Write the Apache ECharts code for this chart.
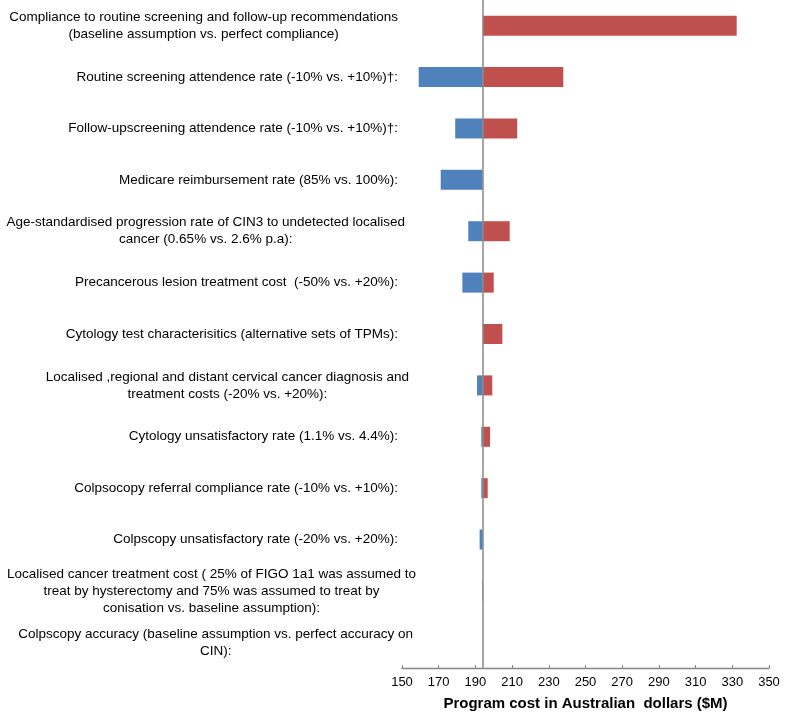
<!DOCTYPE html>
<html><head><meta charset="utf-8">
<script src="https://cdn.jsdelivr.net/npm/echarts@6/dist/echarts.min.js"></script>
<style>html,body{margin:0;padding:0;background:#fff}#c{width:785px;height:713px}</style>
</head><body><div id="c"></div>
<script>
const categories = [
  "Compliance to routine screening and follow-up recommendations\n(baseline assumption vs. perfect compliance)",
  "Routine screening attendence rate (-10% vs. +10%)†:",
  "Follow-upscreening attendence rate (-10% vs. +10%)†:",
  "Medicare reimbursement rate (85% vs. 100%):",
  "Age-standardised progression rate of CIN3 to undetected localised\ncancer (0.65% vs. 2.6% p.a):",
  "Precancerous lesion treatment cost  (-50% vs. +20%):",
  "Cytology test characterisitics (alternative sets of TPMs):",
  "Localised ,regional and distant cervical cancer diagnosis and\ntreatment costs (-20% vs. +20%):",
  "Cytology unsatisfactory rate (1.1% vs. 4.4%):",
  "Colpsocopy referral compliance rate (-10% vs. +10%):",
  "Colpscopy unsatisfactory rate (-20% vs. +20%):",
  "Localised cancer treatment cost ( 25% of FIGO 1a1 was assumed to\ntreat by hysterectomy and 75% was assumed to treat by\nconisation vs. baseline assumption):",
  "Colpscopy accuracy (baseline assumption vs. perfect accuracy on\nCIN):"
];
const labelShift = [0, 0, 0, 0, 7, 0, 0, 11, 0, 0, 0, 18, 15];
const baseline = 194;
const lowValues  = [194, 159.1, 179.0, 171.1, 186.1, 182.9, 194, 190.9, 193.2, 193.2, 192.3, 193.6, 194];
const highValues = [332.4, 237.9, 212.8, 194, 208.7, 200.0, 204.7, 199.2, 198.0, 196.7, 194, 194, 194];
const xTicks = { min: 150, max: 350, interval: 20 };

const FONT = "'Liberation Sans', Arial, sans-serif";
const offsetData = lowValues.map(v => v);
const lowDelta = lowValues.map(v => +(baseline - v).toFixed(2));
const highDelta = highValues.map(v => +(v - baseline).toFixed(2));

const yData = categories.map((c, i) => ({
  value: c,
  textStyle: { padding: [0, -labelShift[i], 0, 0] }
}));

const chart = echarts.init(document.getElementById('c'), null, { renderer: 'canvas' });
chart.setOption({
  animation: false,
  backgroundColor: '#fff',
  grid: { left: 402, right: 16, top: 0, bottom: 45, containLabel: false, outerBoundsMode: 'none' },
  xAxis: {
    type: 'value', min: xTicks.min, max: xTicks.max, interval: xTicks.interval,
    axisLine: { show: true, lineStyle: { color: '#868686', width: 1.3 } },
    axisTick: { show: true, inside: true, length: 3, lineStyle: { color: '#868686' } },
    splitLine: { show: false },
    axisLabel: { color: '#000', fontSize: 13, fontFamily: FONT, margin: 8 },
    name: 'Program cost in Australian  dollars ($M)',
    nameLocation: 'middle', nameGap: 28,
    nameTextStyle: { color: '#000', fontSize: 15, fontWeight: 'bold', fontFamily: FONT }
  },
  yAxis: {
    type: 'category', inverse: true, data: yData,
    axisLine: { show: false }, axisTick: { show: false },
    axisLabel: {
      margin: 4, color: '#000', fontSize: 13.5, fontFamily: FONT, lineHeight: 17,
      formatter: v => v.split('\n').map(l => '{c|' + l + '}').join('\n'),
      rich: { c: { align: 'center', fontSize: 13.5, fontFamily: FONT, color: '#000', lineHeight: 17 } }
    }
  },
  series: [
    { type: 'bar', stack: 's', barWidth: 20, data: offsetData, itemStyle: { color: 'transparent' }, silent: true },
    { type: 'bar', stack: 's', barWidth: 20, data: lowDelta, itemStyle: { color: '#4F81BD' } },
    { type: 'bar', stack: 's', barWidth: 20, data: highDelta, itemStyle: { color: '#C0504D' },
      markLine: { silent: true, symbol: 'none', label: { show: false },
        lineStyle: { color: '#888', width: 1.5, type: 'solid' },
        data: [{ xAxis: baseline }] } }
  ]
});
</script></body></html>
